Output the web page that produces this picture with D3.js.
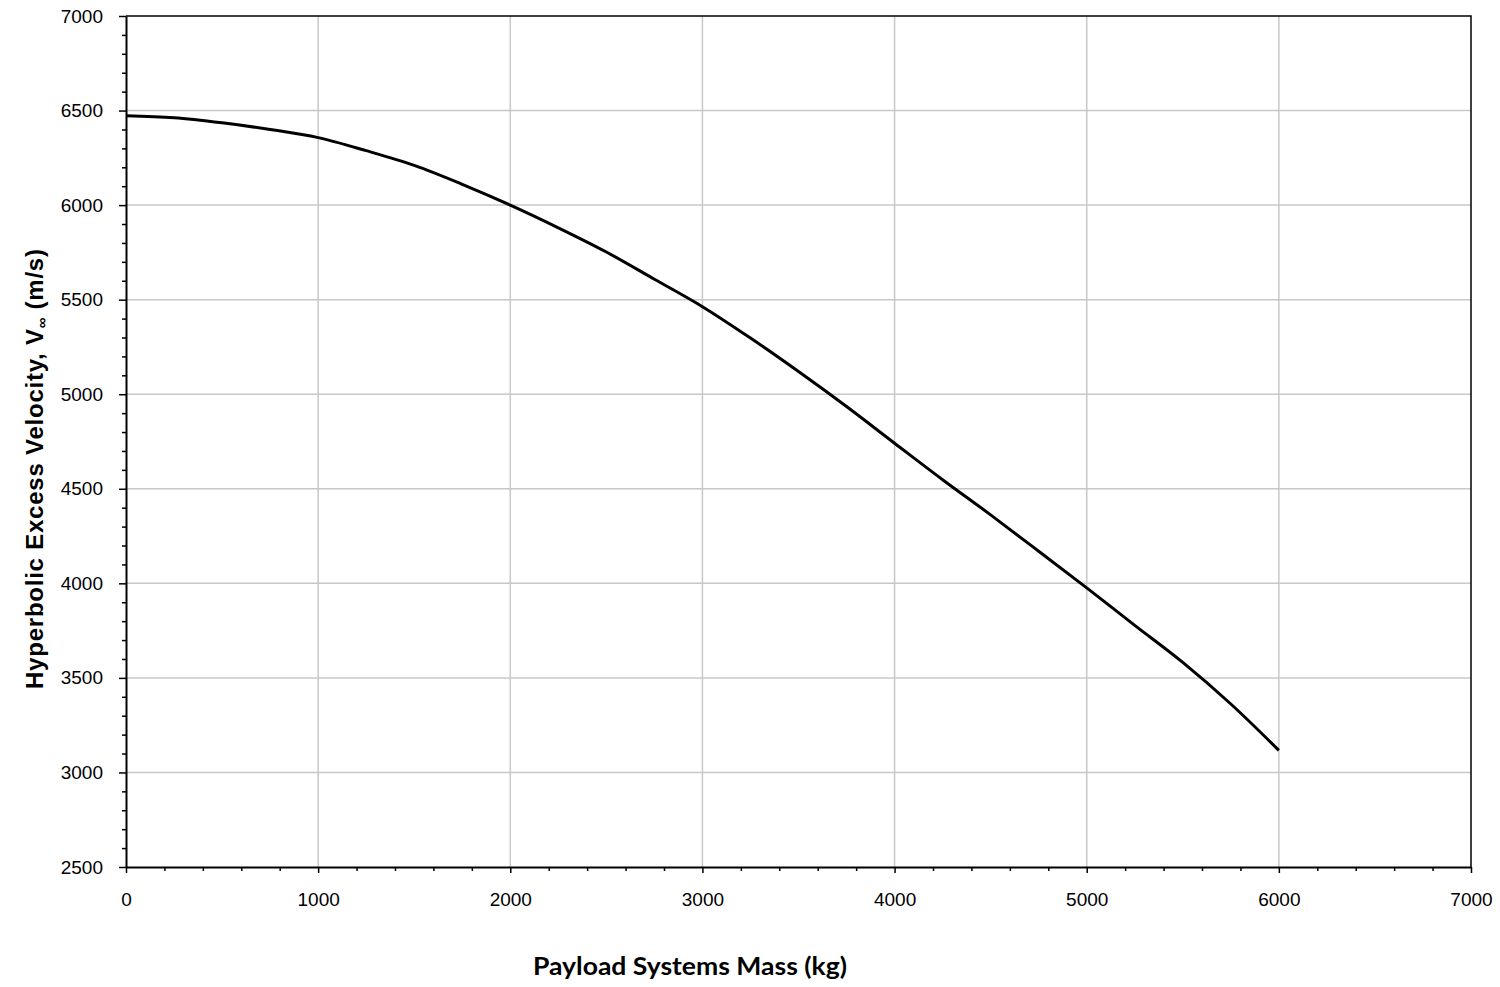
<!DOCTYPE html>
<html>
<head>
<meta charset="utf-8">
<script src="https://cdn.jsdelivr.net/npm/d3@7"></script>
<style>
  body { margin: 0; background: #fff; }
  svg { display: block; }
</style>
</head>
<body>
<script>
// payload mass (kg)
const massKg = [0, 250, 500, 750, 1000, 1250, 1500, 1750, 2000, 2250, 2500, 2750, 3000,
  3250, 3500, 3750, 4000, 4250, 4500, 4750, 5000, 5250, 5500, 5750, 6000];
// hyperbolic excess velocity (m/s)
const vInf = [6473, 6462, 6435, 6400, 6357, 6288, 6210, 6110, 6000, 5880, 5752, 5608, 5463,
  5297, 5120, 4935, 4741, 4548, 4362, 4170, 3976, 3778, 3582, 3362, 3117];

const xTicks = [0, 1000, 2000, 3000, 4000, 5000, 6000, 7000];
const yTicks = [2500, 3000, 3500, 4000, 4500, 5000, 5500, 6000, 6500, 7000];

const width = 1500, height = 987;
const m = { left: 126, right: 29, top: 16, bottom: 120 };

const svg = d3.select("body").append("svg")
  .attr("width", width).attr("height", height);

const x = d3.scaleLinear().domain([0, 7000]).range([m.left, width - m.right]);
const y = d3.scaleLinear().domain([2500, 7000]).range([height - m.bottom, m.top]);

// grid
svg.append("g").selectAll("line").data(xTicks.slice(1, -1)).enter().append("line")
  .attr("x1", d => x(d)).attr("x2", d => x(d))
  .attr("y1", y(2500)).attr("y2", y(7000))
  .attr("stroke", "#c8c8c8").attr("stroke-width", 1.5);
svg.append("g").selectAll("line").data(yTicks.slice(1, -1)).enter().append("line")
  .attr("x1", x(0)).attr("x2", x(7000))
  .attr("y1", d => y(d)).attr("y2", d => y(d))
  .attr("stroke", "#c8c8c8").attr("stroke-width", 1.5);

// top/right frame
svg.append("path")
  .attr("d", `M${x(0)},${y(7000)}H${x(7000)}V${y(2500)}`)
  .attr("fill", "none").attr("stroke", "#000").attr("stroke-width", 1.5);

// minor ticks
const minorX = d3.range(0, 7001, 200).filter(v => v % 1000 !== 0);
const minorY = d3.range(2500, 7001, 100).filter(v => v % 500 !== 0);

svg.append("g").attr("transform", `translate(0,${y(2500)})`)
  .call(d3.axisBottom(x).tickValues(minorX).tickSize(4).tickFormat(""))
  .call(g => g.select(".domain").remove())
  .selectAll("line").attr("stroke-width", 1.5);
svg.append("g").attr("transform", `translate(${x(0)},0)`)
  .call(d3.axisLeft(y).tickValues(minorY).tickSize(4).tickFormat(""))
  .call(g => g.select(".domain").remove())
  .selectAll("line").attr("stroke-width", 1.5);

// main axes
const xAxis = svg.append("g").attr("transform", `translate(0,${y(2500)})`)
  .call(d3.axisBottom(x).tickValues(xTicks).tickSize(6).tickSizeOuter(0).tickPadding(20).tickFormat(d3.format("d")));
const yAxis = svg.append("g").attr("transform", `translate(${x(0)},0)`)
  .call(d3.axisLeft(y).tickValues(yTicks).tickSize(7).tickSizeOuter(0).tickPadding(16).tickFormat(d3.format("d")));

[xAxis, yAxis].forEach(a => {
  a.select(".domain").attr("stroke-width", 2);
  a.selectAll(".tick line").attr("stroke-width", 1.5);
  a.selectAll("text")
    .attr("font-family", "'Liberation Sans', Arial, sans-serif")
    .attr("font-size", 19).attr("fill", "#000");
});

// curve
const pts = massKg.map((d, i) => [d, vInf[i]]);
svg.append("path")
  .datum(pts)
  .attr("fill", "none")
  .attr("stroke", "#000")
  .attr("stroke-width", 3)
  .attr("d", d3.line().x(d => x(d[0])).y(d => y(d[1])).curve(d3.curveMonotoneX));

// axis titles
svg.append("text")
  .attr("x", 690).attr("y", 975)
  .attr("text-anchor", "middle")
  .attr("font-family", "Lato, 'Open Sans', sans-serif")
  .attr("font-weight", "bold").attr("font-size", 24)
  .attr("textLength", 314).attr("lengthAdjust", "spacingAndGlyphs")
  .text("Payload Systems Mass (kg)");

const yt = svg.append("text")
  .attr("transform", "translate(43,469) rotate(-90)")
  .attr("text-anchor", "middle")
  .attr("font-family", "'Liberation Sans', Arial, sans-serif")
  .attr("font-weight", "bold").attr("font-size", 24)
  .attr("textLength", 440).attr("lengthAdjust", "spacing");
yt.append("tspan").text("Hyperbolic Excess Velocity, V");
yt.append("tspan").attr("font-size", 15).attr("dy", 4).text("\u221E");
yt.append("tspan").attr("dy", -4).text(" (m/s)");
</script>
</body>
</html>
